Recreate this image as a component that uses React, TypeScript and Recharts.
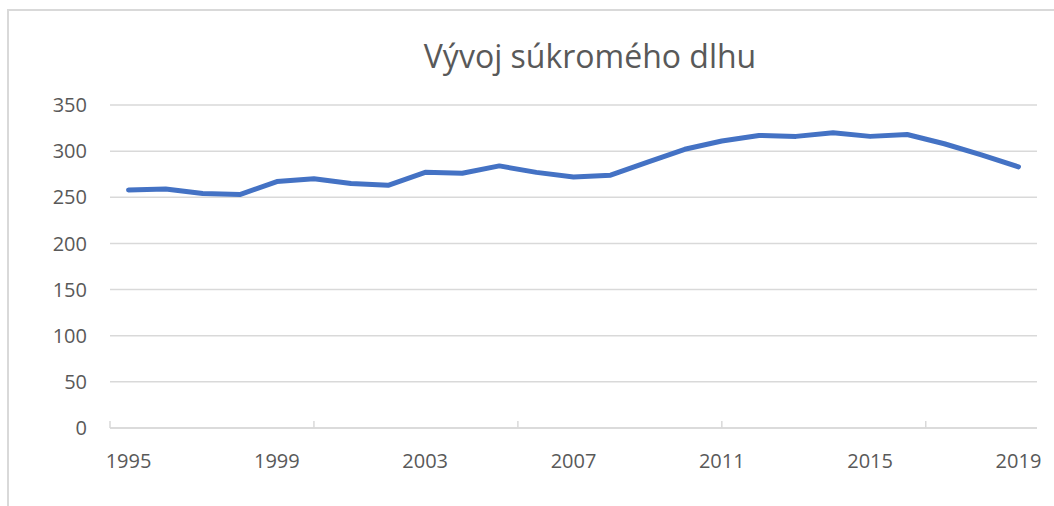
import React from 'react';
import { LineChart, Line, XAxis, YAxis, CartesianGrid } from 'recharts';

const years = [1995, 1996, 1997, 1998, 1999, 2000, 2001, 2002, 2003, 2004, 2005, 2006, 2007, 2008, 2009, 2010, 2011, 2012, 2013, 2014, 2015, 2016, 2017, 2018, 2019];
const debt = [258, 259, 254, 253, 267, 270, 265, 263, 277, 276, 284, 277, 272, 274, 288, 302, 311, 317, 316, 320, 316, 318, 308, 296, 283];
const yTicks = [0, 50, 100, 150, 200, 250, 300, 350];
const labelYears = [1995, 1999, 2003, 2007, 2011, 2015, 2019];
const tickMarkPositions = [1994.5, 2000, 2005.5, 2011, 2016.5];
const title = 'Vývoj súkromého dlhu';

const data = years.map((y, i) => ({ year: y, value: debt[i] }));
const xTicks = Array.from(new Set([...tickMarkPositions, ...labelYears])).sort((a, b) => a - b);

const FONT = '"Open Sans", sans-serif';
const TEXT = '#595959';
const GRID = '#d9d9d9';

const XTick = (props: any) => {
  const { x, y, payload } = props;
  const v = payload.value;
  const isLabel = labelYears.includes(v);
  const isMark = tickMarkPositions.includes(v);
  return (
    <g>
      {isMark && <line x1={x} x2={x} y1={y - 7} y2={y} stroke={GRID} strokeWidth={1.5} />}
      {isLabel && (
        <text x={x} y={y + 40} textAnchor="middle" fill={TEXT} fontSize={20} fontFamily={FONT}>
          {v}
        </text>
      )}
    </g>
  );
};

export default function App() {
  return (
    <div style={{ position: 'fixed', left: 0, top: 0, width: 1054, height: 506, background: '#fff', overflow: 'hidden' }}>
      <div style={{ position: 'absolute', left: 7, top: 9, width: 1200, height: 700, borderLeft: `2px solid ${GRID}`, borderTop: `2px solid ${GRID}` }} />
      <div style={{ position: 'absolute', left: 0, width: 1180, top: 36, textAlign: 'center', fontFamily: FONT, fontSize: 32, color: TEXT, lineHeight: '40px' }}>
        {title}
      </div>
      <div style={{ position: 'absolute', left: 0, top: 0 }}>
        <LineChart width={1054} height={506} data={data} margin={{ top: 105, right: 17, left: 0, bottom: 28 }}>
          <CartesianGrid vertical={false} stroke={GRID} strokeWidth={1.5} />
          <XAxis
            dataKey="year"
            type="number"
            domain={[1994.5, 2019.5]}
            ticks={xTicks}
            interval={0}
            height={50}
            tickSize={0}
            tickMargin={0}
            tickLine={false}
            axisLine={{ stroke: GRID, strokeWidth: 1.5 }}
            tick={<XTick />}
          />
          <YAxis
            domain={[0, 350]}
            ticks={yTicks}
            width={110}
            axisLine={false}
            tickLine={false}
            tickSize={8}
            tickMargin={15}
            tick={{ fill: TEXT, fontSize: 20, fontFamily: FONT }}
          />
          <Line
            type="linear"
            dataKey="value"
            stroke="#4472C4"
            strokeWidth={5}
            strokeLinecap="round"
            strokeLinejoin="round"
            dot={false}
            isAnimationActive={false}
          />
        </LineChart>
      </div>
    </div>
  );
}
